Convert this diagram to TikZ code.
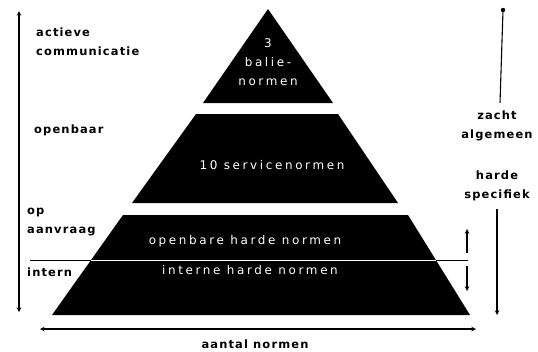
\documentclass[tikz,border=0pt]{standalone}
\usepackage{fontspec}
\setmainfont{DejaVu Sans}[LetterSpace=10]
\newfontfamily\sidefont{DejaVu Sans}[LetterSpace=10]
\newfontfamily\layerfont{DejaVu Sans}[LetterSpace=22]
\usepackage{tikz}
\usetikzlibrary{arrows,positioning,calc}
\tikzset{layer/.style={fill=black, draw=none}}
\tikzset{layertext/.style={text=white, font=\layerfont\fontsize{12}{19}\selectfont, align=center, inner sep=0pt}}
\tikzset{sidetext/.style={font=\sidefont\bfseries\fontsize{11.5}{19}\selectfont, align=left, inner sep=0pt}}
\tikzset{arrow/.style={line width=1.1pt, ->, >=stealth}}

\begin{document}
\begin{tikzpicture}[x=1bp, y=-1bp]
  \useasboundingbox (0,0) rectangle (538,351);

  % pyramid corners
  \coordinate (apex) at (268,9);
  \coordinate (top-bl) at (203,103);
  \coordinate (top-br) at (333,103);
  \coordinate (mid-tl) at (196,114);
  \coordinate (mid-tr) at (338,114);
  \coordinate (mid-bl) at (132,203);
  \coordinate (mid-br) at (398,203);
  \coordinate (low-tl) at (123,215);
  \coordinate (low-tr) at (408,215);
  \coordinate (low-bl) at (52,315);
  \coordinate (low-br) at (470,315);

  % divider between public and internal
  \coordinate (split-l) at (30,260);
  \coordinate (split-r) at (468,260);
  \draw[line width=1pt] (split-l) -- (split-r);

  \fill[layer] (apex) -- (top-br) -- (top-bl) -- cycle;
  \fill[layer] (mid-tl) -- (mid-tr) -- (mid-br) -- (mid-bl) -- cycle;
  \fill[layer] (low-tl) -- (low-tr) -- (low-br) -- (low-bl) -- cycle;
  \draw[white, line width=0.8pt] ($(low-tl)!0.45!(low-bl)$) -- ($(low-tr)!0.45!(low-br)$);

  \node[layertext] (balie) at (268,62) {3\\balie-\\normen};
  \node[layertext] (service) at (272,165) {10 servicenormen};
  \node[layertext] (openbaar-hard) at (245,241) {openbare harde normen};
  \node[layertext] (intern-hard) at (250,270) {interne harde normen};

  % left side
  \node[sidetext, anchor=west] (actief) at (36,42) {actieve\\communicatie};
  \node[sidetext, anchor=west] (openbaar) at (34,130) {openbaar};
  \node[sidetext, anchor=west] (aanvraag) at (27,222) {op\\aanvraag};
  \node[sidetext, anchor=west] (intern) at (27,272) {intern};

  \coordinate (left-top) at (19,11);
  \coordinate (left-bot) at (19,312);
  \draw[arrow, <->] (left-top) -- (left-bot);

  % right side
  \node[sidetext, align=center] (zacht) at (497,126) {zacht\\algemeen};
  \node[sidetext, align=center] (harde) at (497,186) {harde\\specifiek};

  \coordinate (dot) at (503,10);
  \fill (dot) circle (2.2);
  \draw[line width=1.1pt] (dot) -- ($(zacht.north)+(3,-8)$);
  \coordinate (right-bot) at (497,315);
  \draw[arrow] ($(harde.south)+(0,8)$) -- (right-bot);

  \coordinate (up-end) at (467,229);
  \coordinate (down-end) at (467,291);
  \draw[arrow] (467,253) -- (up-end);
  \draw[arrow] (467,266) -- (down-end);

  % bottom
  \coordinate (count-l) at (40,329);
  \coordinate (count-r) at (476,329);
  \draw[arrow, <->] (count-l) -- (count-r);
  \node[sidetext] (aantal) at (255,344) {aantal normen};
\end{tikzpicture}
\end{document}
